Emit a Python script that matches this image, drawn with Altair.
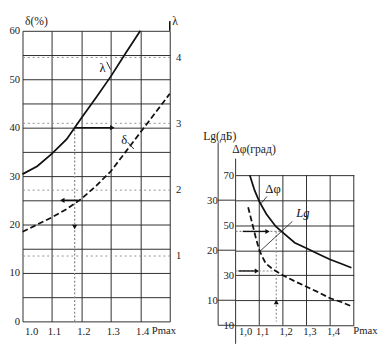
import altair as alt
import pandas as pd

# ---------------- data ----------------
# left panel: lambda (right axis) and delta % (left axis) versus Pmax
p_lambda = [1.0, 1.05, 1.1, 1.15, 1.2, 1.25, 1.3, 1.35, 1.4]
lambda_vals = [2.23, 2.35, 2.54, 2.76, 3.08, 3.39, 3.71, 4.06, 4.40]
p_delta = [1.0, 1.05, 1.1, 1.15, 1.2, 1.25, 1.3, 1.35, 1.4, 1.45, 1.5]
delta_vals = [18.5, 20.0, 21.5, 23.2, 25.3, 28.0, 31.0, 35.0, 39.0, 43.0, 47.0]

# right panel: delta-phi (deg) and Lg (dB) versus Pmax
p_dphi = [1.06, 1.08, 1.1, 1.13, 1.17, 1.2, 1.25, 1.3, 1.35, 1.4, 1.45, 1.49]
dphi_vals = [70, 64, 59.5, 54.5, 49.5, 47, 43, 40.8, 38.5, 36.3, 34.5, 33]
p_lg = [1.053, 1.07, 1.087, 1.101, 1.115, 1.127, 1.15, 1.168, 1.2, 1.25, 1.3,
        1.35, 1.4, 1.45, 1.49]
lg_vals = [28.6, 25.4, 22.2, 19.9, 18.5, 17.4, 16.5, 15.9, 15.0, 13.8, 12.7,
           11.6, 10.4, 9.6, 8.8]

# tick values
x_ticks = [1.0, 1.1, 1.2, 1.3, 1.4, 1.5]
delta_ticks = list(range(0, 65, 5))
lambda_ticks = [1, 2, 3, 4]
dphi_ticks = [10, 20, 30, 40, 50, 60, 70]
lg_ticks = [10, 20, 30]

FONT = "Liberation Serif"
GRID = "#2a2a2a"
INK = "#111111"
GREY = "#8c8c8c"

# ---------------- left panel ----------------
XL = alt.X("p:Q",
           scale=alt.Scale(domain=[1.0, 1.5], nice=False, zero=False),
           axis=alt.Axis(values=x_ticks,
                         labelExpr="datum.value > 1.45 ? '' : format(datum.value, '.1f')",
                         grid=True, gridColor=GRID, gridWidth=1,
                         domain=False, ticks=False, tickSize=0,
                         labelPadding=5, labelOffset=2,
                         title="Pmax", titleX=133, titleY=10,
                         titleAlign="left", titleBaseline="middle",
                         titleFontSize=11))
YD = alt.Y("d:Q",
           scale=alt.Scale(domain=[0, 60], nice=False, zero=False),
           axis=alt.Axis(values=delta_ticks,
                         labelExpr="datum.value % 10 == 0 ? datum.label : ''",
                         grid=True, gridColor=GRID, gridWidth=1,
                         domain=False, ticks=False, tickSize=0, labelPadding=3,
                         title="δ(%)", titleAngle=0, titleX=2, titleY=-11,
                         titleAlign="left", titleBaseline="middle"))

df_delta = pd.DataFrame({"p": p_delta, "d": delta_vals})
delta_line = alt.Chart(df_delta).mark_line(
    color=INK, strokeWidth=1.8, strokeDash=[6, 3]).encode(x=XL, y=YD)

left_grey = pd.DataFrame({"p": [1.177], "d": [0], "p2": [1.177], "d2": [40]})
left_arrows = pd.DataFrame({"p": [1.177, 1.19, 1.5], "d": [40, 25, 60],
                            "p2": [1.30, 1.14, 1.5], "d2": [40, 25, 62]})
left_leaders = pd.DataFrame({"p": [1.286, 1.357], "d": [53.6, 37.0],
                             "p2": [1.299, 1.378], "d2": [52.0, 35.6]})
left_heads = pd.DataFrame({"p": [1.305, 1.135, 1.177], "d": [40, 25, 19.5],
                           "s": ["triangle-right", "triangle-left", "triangle-down"]})
left_text = pd.DataFrame({"p": [1.272, 1.345], "d": [52.4, 37.4], "t": ["λ", "δ"]})

l_grey = alt.Chart(left_grey).mark_rule(color=GREY, strokeWidth=1.3, strokeDash=[2, 2]).encode(
    x=XL, y=YD, x2="p2:Q", y2="d2:Q")
l_arr = alt.Chart(left_arrows).mark_rule(color=INK, strokeWidth=1.6).encode(
    x=XL, y=YD, x2="p2:Q", y2="d2:Q")
l_lead = alt.Chart(left_leaders).mark_rule(color=INK, strokeWidth=0.9).encode(
    x=XL, y=YD, x2="p2:Q", y2="d2:Q")
l_heads = alt.Chart(left_heads).mark_point(filled=True, size=28, color=INK, opacity=1).encode(
    x=XL, y=YD, shape=alt.Shape("s:N", scale=None, legend=None))
l_text = alt.Chart(left_text).mark_text(font=FONT, fontSize=13, color=INK).encode(
    x=XL, y=YD, text="t:N")

df_lambda = pd.DataFrame({"p": p_lambda, "l": lambda_vals})
lambda_line = alt.Chart(df_lambda).mark_line(color=INK, strokeWidth=1.8).encode(
    x=XL,
    y=alt.Y("l:Q",
            scale=alt.Scale(domain=[0, 4.4], nice=False, zero=False),
            axis=alt.Axis(orient="right", values=lambda_ticks, grid=True,
                          gridColor=GREY, gridDash=[2, 3], gridWidth=1,
                          domain=False, ticks=False, tickSize=0, labelPadding=6,
                          title="λ", titleAngle=0, titleX=2, titleY=-11,
                          titleAlign="left", titleBaseline="middle")))

left = alt.layer(
    alt.layer(delta_line, l_grey, l_arr, l_lead, l_heads, l_text),
    lambda_line,
).resolve_scale(y="independent").properties(width=152, height=300)

# ---------------- right panel ----------------
XR = alt.X("p:Q",
           scale=alt.Scale(domain=[1.0, 1.5], nice=False, zero=False),
           axis=alt.Axis(values=x_ticks,
                         labelExpr="datum.value > 1.45 ? '' : replace(format(datum.value, '.1f'), '.', ',')",
                         grid=False, domain=False, ticks=False, tickSize=0,
                         labelPadding=1, labelOffset=3,
                         title="Pmax", titleX=121, titleY=6,
                         titleAlign="left", titleBaseline="middle",
                         titleFontSize=11))
YP = alt.Y("d:Q",
           scale=alt.Scale(domain=[10, 70], range=[304, 149], nice=False, zero=False),
           axis=alt.Axis(values=dphi_ticks,
                         labelExpr="(datum.value - 10) % 20 == 0 ? datum.label : ''",
                         grid=True, gridColor=GRID, gridWidth=1,
                         domain=False, ticks=False, tickSize=0, labelPadding=2,
                         title="Δφ(град)", titleAngle=0, titleX=-4, titleY=122,
                         titleAlign="left", titleBaseline="middle"))

df_dphi = pd.DataFrame({"p": p_dphi, "d": dphi_vals})
dphi_line = alt.Chart(df_dphi).mark_line(color=INK, strokeWidth=1.8).encode(x=XR, y=YP)

# frame and grid lines of the right panel (in data units)
r_frame = pd.DataFrame({
    "p":  [1.1, 1.2, 1.3, 1.4, 1.5, 1.0, 0.926, 0.926, 0.926, 0.926, 0.926],
    "d":  [10, 10, 10, 10, 10, 2.6, 10, 10, 20, 40, 60],
    "p2": [1.1, 1.2, 1.3, 1.4, 1.5, 1.0, 0.926, 1.0, 1.0, 1.0, 1.0],
    "d2": [70, 70, 70, 70, 70, 76.6, 83.0, 10, 20, 40, 60],
})
r_grey = pd.DataFrame({"p": [1.0, 1.172, 1.0], "d": [47.5, 47.5, 31.7],
                       "p2": [1.195, 1.172, 1.172], "d2": [47.5, 11.5, 31.7]})
r_arrows = pd.DataFrame({"p": [1.03, 1.012], "d": [47.5, 31.7],
                         "p2": [1.13, 1.085], "d2": [47.5, 31.7]})
r_leaders = pd.DataFrame({"p": [1.133, 1.24], "d": [61.5, 51.5],
                          "p2": [1.107, 1.102], "d2": [58.6, 39.5]})
r_heads = pd.DataFrame({"p": [1.135, 1.09, 1.172], "d": [47.5, 31.7, 19.3],
                        "s": ["triangle-right", "triangle-right", "triangle-up"]})
r_text = pd.DataFrame({"p": [1.158], "d": [64.5], "t": ["Δφ"]})
r_text_it = pd.DataFrame({"p": [1.285], "d": [55.0], "t": ["Lg"]})

r_fr = alt.Chart(r_frame).mark_rule(color=GRID, strokeWidth=1).encode(
    x=XR, y=YP, x2="p2:Q", y2="d2:Q")
r_gr = alt.Chart(r_grey).mark_rule(color=GREY, strokeWidth=1.2, strokeDash=[2, 2]).encode(
    x=XR, y=YP, x2="p2:Q", y2="d2:Q")
r_ar = alt.Chart(r_arrows).mark_rule(color=INK, strokeWidth=1.4).encode(
    x=XR, y=YP, x2="p2:Q", y2="d2:Q")
r_le = alt.Chart(r_leaders).mark_rule(color=INK, strokeWidth=0.8).encode(
    x=XR, y=YP, x2="p2:Q", y2="d2:Q")
r_hd = alt.Chart(r_heads).mark_point(filled=True, size=26, color=INK, opacity=1).encode(
    x=XR, y=YP, shape=alt.Shape("s:N", scale=None, legend=None))
r_tx = alt.Chart(r_text).mark_text(font=FONT, fontSize=13, color=INK).encode(
    x=XR, y=YP, text="t:N")
r_tx2 = alt.Chart(r_text_it).mark_text(font=FONT, fontSize=13, fontStyle="italic", color=INK).encode(
    x=XR, y=YP, text="t:N")

df_lg = pd.DataFrame({"p": p_lg, "g": lg_vals})
lg_line = alt.Chart(df_lg).mark_line(color=INK, strokeWidth=1.8, strokeDash=[6, 3]).encode(
    x=XR,
    y=alt.Y("g:Q",
            scale=alt.Scale(domain=[5, 35], range=[304, 149], nice=False, zero=False),
            axis=alt.Axis(orient="left", offset=18, values=lg_ticks, grid=False,
                          domain=False, ticks=False, tickSize=0, labelPadding=1,
                          title="Lg(дБ)", titleAngle=0, titleX=-16, titleY=108,
                          titleAlign="left", titleBaseline="middle")))

right = alt.layer(
    alt.layer(r_fr, dphi_line, r_gr, r_ar, r_le, r_hd, r_tx, r_tx2),
    lg_line,
).resolve_scale(y="independent").properties(width=122, height=304)

chart = alt.hconcat(left, right, spacing=68, bounds="flush").properties(
    padding={"left": 0, "top": 0, "right": 0, "bottom": 0},
    background="white",
).configure_view(stroke="transparent").configure_axis(
    labelFont=FONT, titleFont=FONT, labelFontSize=11, titleFontSize=12,
    titleFontWeight="normal", labelColor="#222222", titleColor="#222222"
)

chart.save("out.html", embed_options={"renderer": "svg", "actions": False})
